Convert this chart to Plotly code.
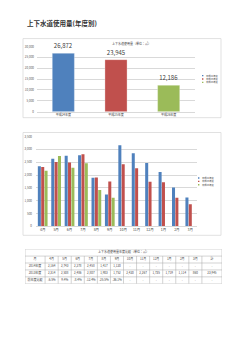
import plotly.graph_objects as go

# ---------------- data ----------------
years = ["平成24年度", "平成25年度", "平成26年度"]
annual_totals = [26872, 23945, 12186]
months = ["4月", "5月", "6月", "7月", "8月", "9月", "10月", "11月", "12月", "1月", "2月", "3月"]
h24 = [2340, 2630, 2750, 2770, 1890, 1245, 3160, 2850, 2470, 2120, 1510, 1130]
h25 = [2314, 2508, 2486, 2807, 1903, 1752, 2420, 2267, 1735, 1719, 1114, 860]
h26 = [2164, 2743, 2278, 2458, 1417, 1120, None, None, None, None, None, None]
compare = ["-6.5%", "9.4%", "-8.4%", "-12.4%", "-25.5%", "-36.1%", "-", "-", "-", "-", "-", "-"]
table_title = "上下水道使用量年度比較（単位：㎥）"
table_row_labels = ["2014年度", "2013年度", "前年度比較"]
total_col = ["-", "23,945", "-"]

colors = ["#4F81BD", "#C0504D", "#9BBB59"]
FONT = "Noto Sans CJK JP"
W, H = 250, 353


def px(x):
    return x / W


def py(y):
    return 1 - y / H


fig = go.Figure()

# ---------------- top chart: annual totals ----------------
for name, val, col in zip(years, annual_totals, colors):
    fig.add_trace(go.Bar(
        x=[name], y=[val], name=name, marker=dict(color=col, line=dict(color="rgba(255,255,255,0.6)", width=0.5)),
        width=0.42, offset=-0.21, xaxis="x", yaxis="y",
        text=[f"{val:,}"], textposition="outside", constraintext="none", cliponaxis=False,
        textfont=dict(size=6, color="#404040", family=FONT), showlegend=False,
    ))

# ---------------- monthly chart ----------------
for name, vals, col in zip(years, [h24, h25, h26], colors):
    fig.add_trace(go.Bar(
        x=months, y=vals, name=name, marker=dict(color=col, line=dict(width=0)),
        xaxis="x2", yaxis="y2", showlegend=False,
    ))


# ---------------- table (text on its own axes) ----------------
def fmt(v):
    return "-" if v is None else f"{v:,}"


header_vals = ["月"] + months + ["計"]
columns = [table_row_labels]
for i in range(12):
    columns.append([fmt(h26[i]), fmt(h25[i]), compare[i]])
columns.append(total_col)

col_w = [20] + [13] * 12 + [20]
edges = [0]
for w in col_w:
    edges.append(edges[-1] + w)
centers = [(edges[i] + edges[i + 1]) / 2 for i in range(len(col_w))]
total_w = edges[-1]

tx, ty, tt = [total_w / 2], [0.5], [table_title]
for c, head, colvals in zip(centers, header_vals, columns):
    tx.append(c); ty.append(1.5); tt.append(head)
    for r, v in enumerate(colvals):
        tx.append(c); ty.append(2.5 + r); tt.append(v)

fig.add_trace(go.Scatter(
    x=tx, y=ty, text=tt, mode="text", xaxis="x3", yaxis="y3",
    textfont=dict(size=3, color="#404040", family=FONT), showlegend=False, hoverinfo="skip",
))

axis_common = dict(ticks="", fixedrange=True)

fig.update_layout(
    width=W, height=H, margin=dict(l=0, r=0, t=0, b=0),
    paper_bgcolor="white", plot_bgcolor="white",
    font=dict(family=FONT, size=3, color="#595959"),
    barmode="group", bargap=0.25, bargroupgap=0.1,
    showlegend=False,
    xaxis=dict(domain=[px(37), px(195)], anchor="y", type="category",
               tickfont=dict(size=3, color="#404040"), showgrid=False,
               showline=True, linecolor="#D9D9D9", linewidth=0.6, **axis_common),
    yaxis=dict(domain=[py(111), py(45)], anchor="x", range=[0, 30000], dtick=5000,
               tickformat=",", tickfont=dict(size=3, color="#595959"),
               showgrid=True, gridcolor="#D9D9D9", gridwidth=0.5, zeroline=False,
               showline=False, ticklabelstandoff=2, **axis_common),
    xaxis2=dict(domain=[px(36), px(197)], anchor="y2", type="category",
                tickfont=dict(size=3.5, color="#404040"), showgrid=False,
                showline=True, linecolor="#D9D9D9", linewidth=0.6, **axis_common),
    yaxis2=dict(domain=[py(227), py(136)], anchor="x2", range=[0, 3500], dtick=500,
                tickformat=",", tickfont=dict(size=3, color="#595959"),
                showgrid=True, gridcolor="#D9D9D9", gridwidth=0.5, zeroline=False,
                showline=False, ticklabelstandoff=3, **axis_common),
    xaxis3=dict(domain=[px(25), px(222)], anchor="y3", range=[0, total_w], visible=False, fixedrange=True),
    yaxis3=dict(domain=[py(285), py(250)], anchor="x3", range=[5, 0], visible=False, fixedrange=True),
)

shapes = [
    # chart frames
    dict(type="rect", xref="paper", yref="paper", x0=px(23), x1=px(221), y0=py(117), y1=py(37),
         line=dict(color="#D9D9D9", width=0.8), fillcolor="rgba(0,0,0,0)", layer="below"),
    dict(type="rect", xref="paper", yref="paper", x0=px(23), x1=px(221), y0=py(236), y1=py(132),
         line=dict(color="#D9D9D9", width=0.8), fillcolor="rgba(0,0,0,0)", layer="below"),
]
# table grid lines
line_style = dict(color="#A6A6A6", width=0.5)
for r in range(6):
    shapes.append(dict(type="line", xref="x3", yref="y3", x0=0, x1=total_w, y0=r, y1=r, line=line_style))
for i, e in enumerate(edges):
    y0 = 0 if i in (0, len(edges) - 1) else 1
    shapes.append(dict(type="line", xref="x3", yref="y3", x0=e, x1=e, y0=y0, y1=5, line=line_style))

annotations = [
    dict(text="<b>上下水道使用量(年度別)</b>", x=px(25), y=py(21), xref="paper", yref="paper",
         xanchor="left", yanchor="middle", showarrow=False, font=dict(size=6.5, color="#333333")),
    dict(text="上下水道使用量（単位：㎥）", x=px(131), y=py(42), xref="paper", yref="paper",
         xanchor="center", yanchor="middle", showarrow=False, font=dict(size=3, color="#404040")),
]

# legends drawn manually (tiny, as in the reference)
for lx, ly0 in [(202, 74.5), (198, 178)]:
    for i, (name, col) in enumerate(zip(years, colors)):
        yy = ly0 + i * 3.4
        shapes.append(dict(type="rect", xref="paper", yref="paper",
                           x0=px(lx), x1=px(lx + 1.4), y0=py(yy + 0.7), y1=py(yy - 0.7),
                           fillcolor=col, line=dict(width=0)))
        annotations.append(dict(text=name, x=px(lx + 2.0), y=py(yy), xref="paper", yref="paper",
                                xanchor="left", yanchor="middle", showarrow=False,
                                font=dict(size=2.3, color="#404040")))

fig.update_layout(shapes=shapes, annotations=annotations)

fig.write_html("out.html")
